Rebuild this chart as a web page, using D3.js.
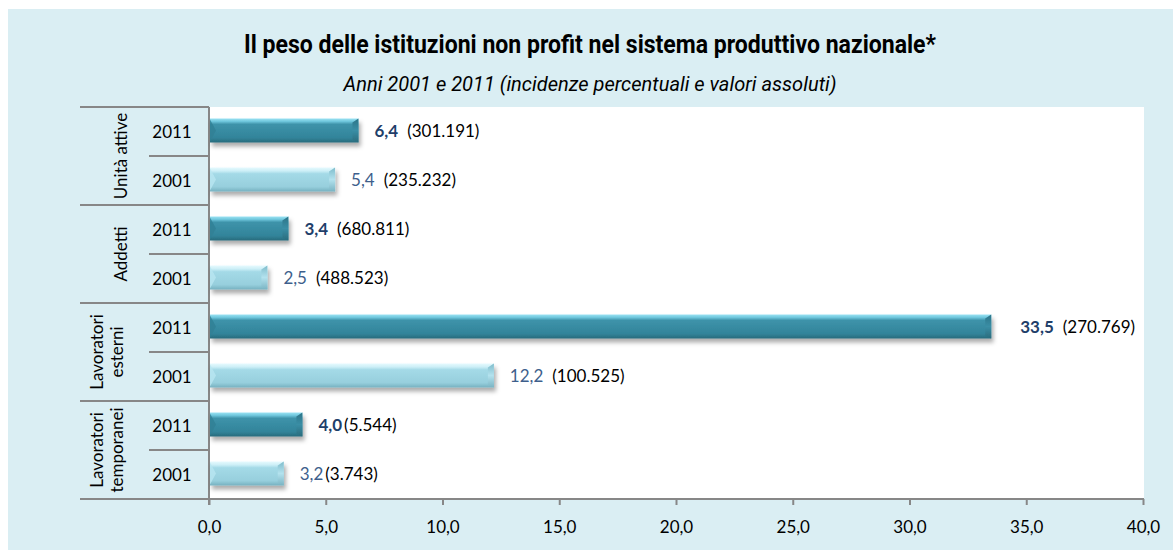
<!DOCTYPE html>
<html>
<head>
<meta charset="utf-8">
<script src="https://cdn.jsdelivr.net/npm/d3@7"></script>
<style>
  body { margin: 0; background: #fff; }
  text { font-family: Lato, "Open Sans", sans-serif; }
</style>
</head>
<body>
<div id="chart"></div>
<script>
// data
const groups = ["Unità attive", "Addetti", "Lavoratori esterni", "Lavoratori temporanei"];
const groupLines = [["Unità attive"], ["Addetti"], ["Lavoratori", "esterni"], ["Lavoratori", "temporanei"]];
const years = ["2011", "2001"];
const pct2011 = [6.4, 3.4, 33.5, 4.0];
const pct2001 = [5.4, 2.5, 12.2, 3.2];
const abs2011 = [301191, 680811, 270769, 5544];
const abs2001 = [235232, 488523, 100525, 3743];
const xTicks = [0, 5, 10, 15, 20, 25, 30, 35, 40];

var W = 1173, H = 550;
var plot = {left: 209, right: 1143, top: 107, bottom: 499};

var it = d3.formatLocale({decimal: ",", thousands: ".", grouping: [3], currency: ["€", ""]});
var fmtPct = it.format(".1f"),
    fmtAbs = it.format(",d");

// one row per group/year, 2011 on top
var rows = [];
groups.forEach(function(g, i) {
  rows.push({g: g, gi: i, year: years[0], v: pct2011[i], abs: abs2011[i]});
  rows.push({g: g, gi: i, year: years[1], v: pct2001[i], abs: abs2001[i]});
});
rows.forEach(function(r) { r.key = r.g + "|" + r.year; });

var svg = d3.select("#chart").append("svg")
  .attr("width", W).attr("height", H);

var defs = svg.append("defs");
var shadow = defs.append("filter").attr("id", "shadow")
  .attr("x", "-5%").attr("y", "-40%").attr("width", "115%").attr("height", "200%");
shadow.append("feDropShadow")
  .attr("dx", 2).attr("dy", 4).attr("stdDeviation", 2.2)
  .attr("flood-color", "#000").attr("flood-opacity", 0.32);

function grad(id, stops) {
  var lg = defs.append("linearGradient").attr("id", id)
    .attr("x1", 0).attr("y1", 0).attr("x2", 0).attr("y2", 1);
  stops.forEach(function(s) {
    lg.append("stop").attr("offset", s[0]).attr("stop-color", s[1]);
  });
}
grad("dark", [[0, "#9BE3F3"], [0.12, "#6FC7DD"], [0.24, "#3E93AA"], [0.8, "#32849A"], [1, "#286B7C"]]);
grad("light", [[0, "#E6FAFE"], [0.14, "#CDEFF7"], [0.26, "#A4DAE7"], [0.8, "#97CFDD"], [1, "#76B1C0"]]);
grad("darkEnd", [[0, "#2C7488"], [0.5, "#3A8EA5"], [1, "#2A6B7C"]]);
grad("lightEnd", [[0, "#7FBCCB"], [0.5, "#B3E2EE"], [1, "#7AB4C3"]]);

// backgrounds
svg.append("rect").attr("x", 8).attr("y", 9).attr("width", W - 8).attr("height", H - 9)
  .attr("fill", "#DAEEF3");
svg.append("rect").attr("x", plot.left).attr("y", plot.top)
  .attr("width", plot.right + 1 - plot.left).attr("height", plot.bottom - plot.top)
  .attr("fill", "#fff");

// titles
svg.append("text")
  .attr("x", 590).attr("y", 53)
  .attr("text-anchor", "middle")
  .attr("textLength", 692).attr("lengthAdjust", "spacingAndGlyphs")
  .style("font-family", "Roboto, sans-serif")
  .style("font-weight", "bold").style("font-size", "25px").attr("fill", "#000")
  .text("Il peso delle istituzioni non profit nel sistema produttivo nazionale*");
svg.append("text")
  .attr("x", 590).attr("y", 91)
  .attr("text-anchor", "middle")
  .attr("textLength", 493).attr("lengthAdjust", "spacingAndGlyphs")
  .style("font-family", "Roboto, sans-serif")
  .style("font-style", "italic").style("font-weight", 400).style("font-size", "19.5px").attr("fill", "#000")
  .text("Anni 2001 e 2011 (incidenze percentuali e valori assoluti)");

var x = d3.scaleLinear().domain([0, 40]).range([plot.left, plot.right]);
var y = d3.scaleBand().domain(rows.map(function(r) { return r.key; }))
  .range([plot.top, plot.bottom]);

// category table on the left
var lineCol = "#878787";
var table = svg.append("g");
groups.forEach(function(g, i) {
  var yTop = y(g + "|" + years[0]);
  table.append("line").attr("x1", 80).attr("x2", plot.left)
    .attr("y1", yTop).attr("y2", yTop)
    .attr("stroke", lineCol).attr("stroke-width", 2);
  var yMid = y(g + "|" + years[1]);
  table.append("line").attr("x1", 149).attr("x2", plot.left)
    .attr("y1", yMid).attr("y2", yMid)
    .attr("stroke", lineCol).attr("stroke-width", 2);

  var lines = groupLines[i];
  var cy = yMid;
  var lab = table.append("text")
    .attr("transform", "translate(" + (lines.length > 1 ? 103 : 127) + "," + cy + ") rotate(-90)")
    .attr("text-anchor", "middle")
    .style("font-size", "17px").attr("fill", "#000");
  lines.forEach(function(l, k) {
    lab.append("tspan").attr("x", 0).attr("dy", k === 0 ? 0 : 20).text(l);
  });
});

table.selectAll(".year")
  .data(rows)
  .enter()
  .append("text")
  .attr("class", "year")
  .attr("x", 172)
  .attr("y", function(d) { return y(d.key) + y.bandwidth() / 2; })
  .attr("dy", "0.36em")
  .attr("text-anchor", "middle")
  .style("font-size", "17px").attr("fill", "#000")
  .text(function(d) { return d.year; });

// x axis
var xAxis = svg.append("g")
  .attr("transform", "translate(0," + plot.bottom + ")")
  .call(d3.axisBottom(x).tickValues(xTicks).tickFormat(fmtPct).tickSize(6).tickSizeOuter(0));
xAxis.select(".domain").remove();
xAxis.selectAll(".tick line").attr("stroke", lineCol).attr("stroke-width", 2);
xAxis.selectAll(".tick text")
  .attr("y", 22)
  .style("font-family", "Lato, sans-serif")
  .style("font-size", "17px").attr("fill", "#000");
svg.append("line").attr("x1", 80).attr("x2", plot.right + 1)
  .attr("y1", plot.bottom).attr("y2", plot.bottom)
  .attr("stroke", lineCol).attr("stroke-width", 2);
svg.append("line").attr("x1", plot.left).attr("x2", plot.left)
  .attr("y1", plot.top).attr("y2", plot.bottom + 6)
  .attr("stroke", lineCol).attr("stroke-width", 2);

// bars with bevel
var barH = y.bandwidth() * 0.49, bev = 4;
var bars = svg.append("g").selectAll(".bar")
  .data(rows)
  .enter()
  .append("g")
  .attr("class", "bar")
  .attr("filter", "url(#shadow)");

bars.each(function(d) {
  var g = d3.select(this);
  var dark = d.year === years[0];
  var x0 = x(0) + 1, x1 = x(d.v);
  var y0 = y(d.key) + (y.bandwidth() - barH) / 2 - 1, y1 = y0 + barH;
  g.append("rect")
    .attr("x", x0).attr("y", y0)
    .attr("width", x1 - x0).attr("height", barH)
    .attr("fill", dark ? "url(#dark)" : "url(#light)");
  // right end cap
  g.append("path")
    .attr("d", "M" + (x1 - 6) + "," + (y0 + bev) + "L" + x1 + "," + y0 + "L" + x1 + "," + y1 +
      "L" + (x1 - 6) + "," + (y1 - 3) + "Z")
    .attr("fill", dark ? "url(#darkEnd)" : "url(#lightEnd)");
  // left end cap
  g.append("path")
    .attr("d", "M" + x0 + "," + (y0 + 1) + "L" + (x0 + 6) + "," + (y0 + barH / 2) + "L" + x0 + "," + (y1 - 1) + "Z")
    .attr("fill", dark ? "#2F7F95" : "#B9E6F1")
    .attr("opacity", 0.8);
});

// value labels
var labels = svg.append("g").selectAll(".lab")
  .data(rows)
  .enter()
  .append("text")
  .attr("class", "lab")
  .attr("x", function(d) { return x(d.v) + (d.v > 20 ? 29 : 16); })
  .attr("y", function(d) { return y(d.key) + y.bandwidth() / 2 - 1; })
  .attr("dy", "0.36em")
  .style("font-size", "17px");
labels.append("tspan")
  .attr("fill", function(d) { return d.year === years[0] ? "#1F3F6A" : "#3E5F8C"; })
  .style("font-weight", function(d) { return d.year === years[0] ? "bold" : "normal"; })
  .text(function(d) { return fmtPct(d.v); });
labels.append("tspan")
  .attr("dx", function(d) { return d.abs < 10000 ? 2 : 9; })
  .attr("fill", "#000")
  .text(function(d) { return "(" + fmtAbs(d.abs) + ")"; });
</script>
</body>
</html>
